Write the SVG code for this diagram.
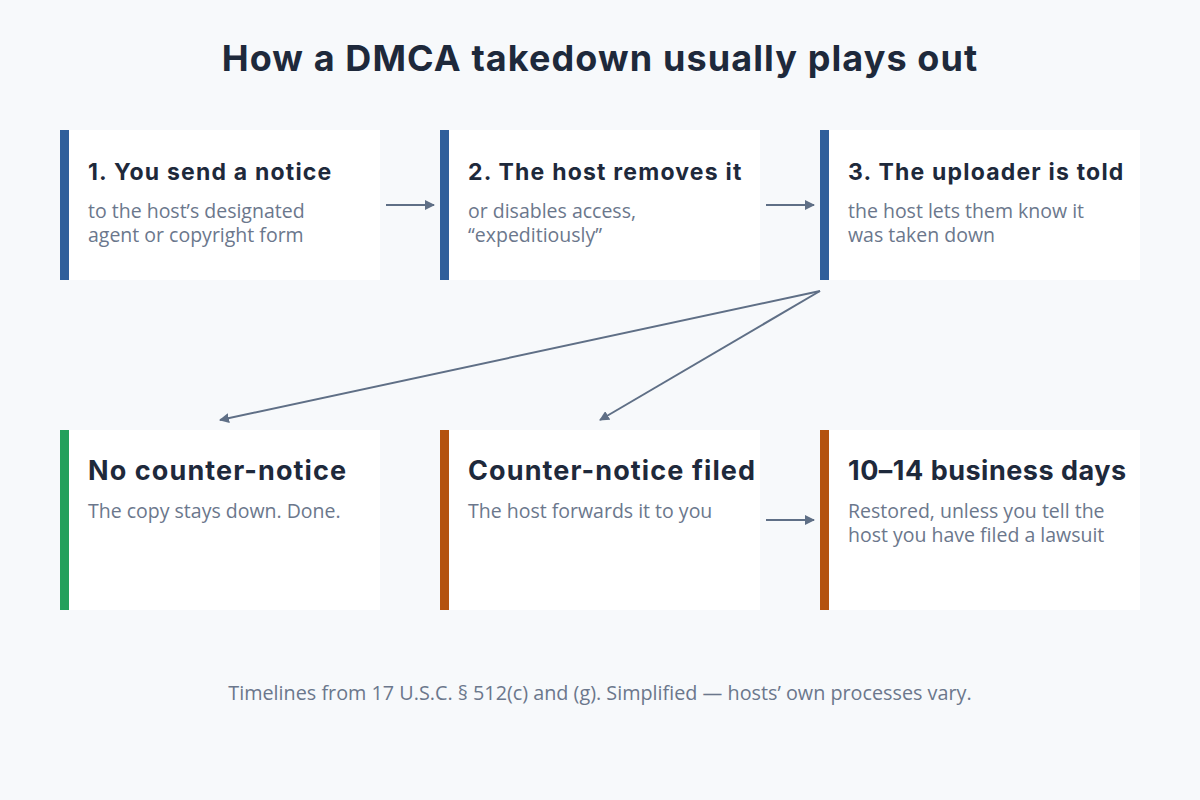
<svg xmlns="http://www.w3.org/2000/svg" width="1200" height="800" viewBox="0 0 1200 800">
<defs>
<marker id="ah" viewBox="0 0 10 10" refX="9" refY="5" markerWidth="10" markerHeight="10" markerUnits="userSpaceOnUse" orient="auto">
<path d="M0,0 L10,5 L0,10 z" fill="#5f6f86"/>
</marker>
<style>
.card{fill:#ffffff}
.blue{fill:#2f5f9b}
.green{fill:#22a05b}
.orange{fill:#b4520f}
.h{font-family:Inter,"Liberation Sans",sans-serif;font-weight:700;font-size:23px;letter-spacing:1.2px;fill:#1e293b}
.h2{font-family:Inter,"Liberation Sans",sans-serif;font-weight:700;font-size:27px;letter-spacing:1.1px;fill:#1e293b}
.b{font-family:"Open Sans","Noto Sans",sans-serif;font-size:19.5px;fill:#6b778c}
.c{stroke:#5f6f86;stroke-width:2;fill:none;marker-end:url(#ah)}
</style>
</defs>
<rect width="1200" height="800" fill="#f7f9fb"/>
<text x="600" y="71" text-anchor="middle" font-family="Inter,'Liberation Sans',sans-serif" font-weight="700" font-size="36" letter-spacing="1.1" fill="#1e293b">How a DMCA takedown usually plays out</text>

<g id="connectors">
<line class="c" x1="386" y1="205" x2="434" y2="205"/>
<line class="c" x1="766" y1="205" x2="814" y2="205"/>
<line class="c" x1="820" y1="291" x2="220" y2="420"/>
<line class="c" x1="820" y1="291" x2="600" y2="420"/>
<line class="c" x1="766" y1="520" x2="814" y2="520"/>
</g>

<g id="n1">
<rect class="card" x="60" y="130" width="320" height="150"/>
<rect class="blue" x="60" y="130" width="9" height="150"/>
<text class="h" x="88" y="180">1. You send a notice</text>
<text class="b" x="88" y="218">to the host’s designated</text>
<text class="b" x="88" y="242">agent or copyright form</text>
</g>
<g id="n2">
<rect class="card" x="440" y="130" width="320" height="150"/>
<rect class="blue" x="440" y="130" width="9" height="150"/>
<text class="h" x="468" y="180">2. The host removes it</text>
<text class="b" x="468" y="218">or disables access,</text>
<text class="b" x="468" y="242">“expeditiously”</text>
</g>
<g id="n3">
<rect class="card" x="820" y="130" width="320" height="150"/>
<rect class="blue" x="820" y="130" width="9" height="150"/>
<text class="h" x="848" y="180">3. The uploader is told</text>
<text class="b" x="848" y="218">the host lets them know it</text>
<text class="b" x="848" y="242">was taken down</text>
</g>
<g id="n4">
<rect class="card" x="60" y="430" width="320" height="180"/>
<rect class="green" x="60" y="430" width="9" height="180"/>
<text class="h2" x="88" y="480">No counter-notice</text>
<text class="b" x="88" y="518">The copy stays down. Done.</text>
</g>
<g id="n5">
<rect class="card" x="440" y="430" width="320" height="180"/>
<rect class="orange" x="440" y="430" width="9" height="180"/>
<text class="h2" x="468" y="480">Counter-notice filed</text>
<text class="b" x="468" y="518">The host forwards it to you</text>
</g>
<g id="n6">
<rect class="card" x="820" y="430" width="320" height="180"/>
<rect class="orange" x="820" y="430" width="9" height="180"/>
<text class="h2" x="848" y="480" style="letter-spacing:0.5px">10–14 business days</text>
<text class="b" x="848" y="518">Restored, unless you tell the</text>
<text class="b" x="848" y="542">host you have filed a lawsuit</text>
</g>

<text x="600" y="700" text-anchor="middle" font-family="'Open Sans','Noto Sans',sans-serif" font-size="19.8" fill="#6b778c">Timelines from 17 U.S.C. § 512(c) and (g). Simplified — hosts’ own processes vary.</text>
</svg>
